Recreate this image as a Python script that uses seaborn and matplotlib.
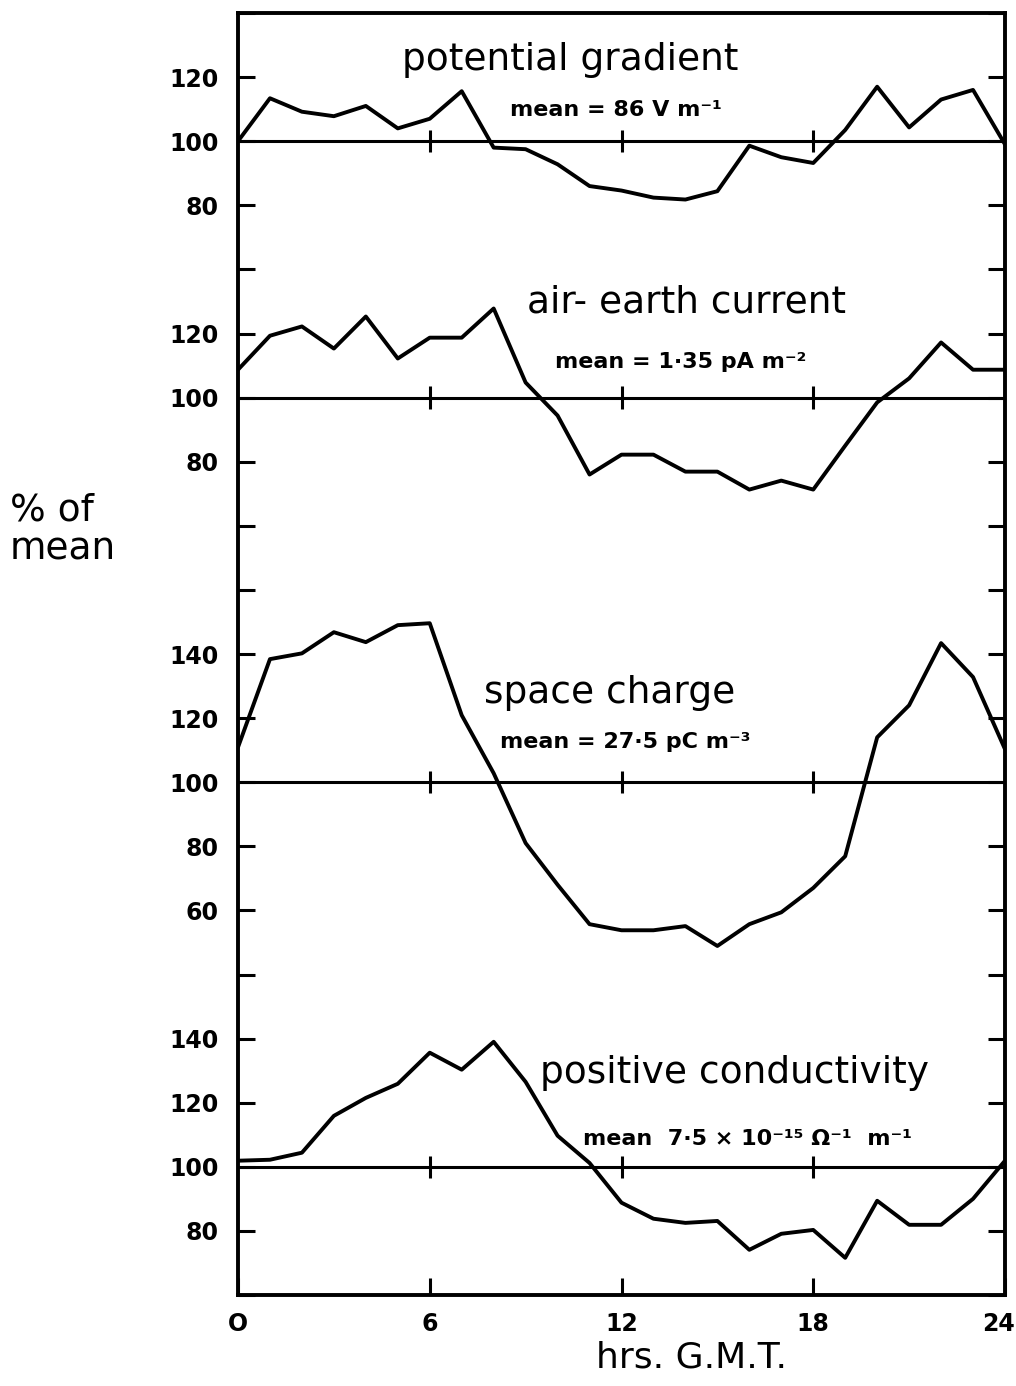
import matplotlib
matplotlib.use("Agg")
import matplotlib.pyplot as plt
import matplotlib.transforms as mtransforms
import pandas as pd
import seaborn as sns

# Diurnal variation, hourly (G.M.T.), as % of the daily mean
hours = list(range(25))
potential_gradient = [100, 113.4, 109.2, 107.8, 111.0, 104.0, 107.0, 115.6, 98.0, 97.5,
                      92.8, 86.0, 84.6, 82.4, 81.8, 84.4, 98.6, 95.0, 93.2, 103.5,
                      117.0, 104.3, 113.0, 116.0, 99.0]
air_earth_current = [108.7, 119.3, 122.2, 115.3, 125.3, 112.2, 118.7, 118.7, 127.8, 104.7,
                     94.4, 76.0, 82.2, 82.2, 76.9, 76.9, 71.3, 74.1, 71.3, 85.0,
                     98.5, 106.0, 117.2, 108.7, 108.7]
space_charge = [110.9, 138.4, 140.2, 146.8, 143.7, 149.0, 149.6, 120.9, 102.8, 81.0,
                68.0, 55.7, 53.8, 53.8, 55.1, 48.9, 55.7, 59.4, 67.0, 76.9,
                114.0, 124.0, 143.4, 132.8, 110.3]
positive_conductivity = [101.9, 102.2, 104.4, 115.9, 121.5, 125.9, 135.6, 130.3, 139.0, 126.5,
                         109.7, 101.2, 88.8, 83.8, 82.5, 83.1, 74.1, 79.1, 80.3, 71.6,
                         89.4, 81.9, 81.9, 90.0, 101.9]

panel_names = ["potential gradient", "air- earth current", "space charge",
               "positive conductivity"]
panel_means = ["mean = 86 V m⁻¹", "mean = 1·35 pA m⁻²", "mean = 27·5 pC m⁻³",
               "mean  7·5 × 10⁻¹⁵ Ω⁻¹  m⁻¹"]
# vertical shift that stacks each panel on the common axis
panel_offsets = [260, 180, 60, -60]

x_ticks = [0, 6, 12, 18, 24]
x_tick_labels = ["O", "6", "12", "18", "24"]
y_tick_labels = ["", "80", "100", "120", "140", "", "60", "80", "100", "120", "140",
                 "", "", "80", "100", "120", "", "80", "100", "120", ""]

series = [potential_gradient, air_earth_current, space_charge, positive_conductivity]
frames = []
for name, vals, off in zip(panel_names, series, panel_offsets):
    frames.append(pd.DataFrame({"hour": hours, "pct": vals, "panel": name,
                                "stacked": [v + off for v in vals]}))
df = pd.concat(frames, ignore_index=True)

sns.set_style("ticks")
plt.rcParams["font.family"] = ["DejaVu Sans"]

fig = plt.figure(figsize=(10.16, 13.86), dpi=100)
ax = fig.add_axes([238 / 1016, 91 / 1386, 767 / 1016, 1282 / 1386])

sns.lineplot(data=df, x="hour", y="stacked", units="panel", estimator=None,
             color="black", linewidth=2.8, ax=ax, legend=False)

ax.set_xlim(0, 24)
ax.set_ylim(0, 400)

# reference line at 100 % for every panel, with hour marks across it
for off in panel_offsets:
    base = 100 + off
    ax.axhline(base, color="black", linewidth=2.2, zorder=1)
    ax.vlines([6, 12, 18], base - 3.5, base + 3.5, color="black", linewidth=2.2)

ax.set_xticks(x_ticks)
ax.set_xticklabels(x_tick_labels)
ax.set_yticks(list(range(0, 401, 20)))
ax.set_yticklabels(y_tick_labels)
ax.tick_params(axis="x", direction="in", length=12, width=2.2, pad=12,
               labelsize=17, colors="black")
ax.tick_params(axis="y", direction="in", length=12, width=2.2, pad=14,
               labelsize=17, right=True, colors="black")
for lbl in ax.get_xticklabels() + ax.get_yticklabels():
    lbl.set_fontweight("bold")

# keep the last hour label inside the figure
last = ax.get_xticklabels()[-1]
last.set_transform(last.get_transform() +
                   mtransforms.ScaledTranslation(-7 / 100, 0, fig.dpi_scale_trans))

for side in ["left", "right", "top", "bottom"]:
    ax.spines[side].set_visible(True)
    ax.spines[side].set_linewidth(2.8)
    ax.spines[side].set_color("black")

ax.set_xlabel("")
ax.set_ylabel("")

# panel titles and mean values
title_pos = [(5.13, 382.2), (9.04, 306.7), (7.70, 184.7), (9.45, 66.1)]
mean_pos = [(8.51, 367.9), (9.92, 289.2), (8.20, 170.7), (10.80, 46.8)]
for name, (tx, ty) in zip(panel_names, title_pos):
    ax.text(tx, ty, name, fontsize=27, ha="left", va="baseline", color="black")
for mtxt, (mx, my) in zip(panel_means, mean_pos):
    ax.text(mx, my, mtxt, fontsize=16, fontweight="bold", ha="left",
            va="baseline", color="black")

fig.text(10 / 1016, 1 - 530 / 1386, "% of\nmean", fontsize=27, ha="left",
         va="center", linespacing=1.1, color="black")
fig.text(692 / 1016, 1 - 1341 / 1386, "hrs. G.M.T.", fontsize=26, ha="center",
         va="top", color="black")

fig.savefig("out.png", dpi=100, facecolor="white")
